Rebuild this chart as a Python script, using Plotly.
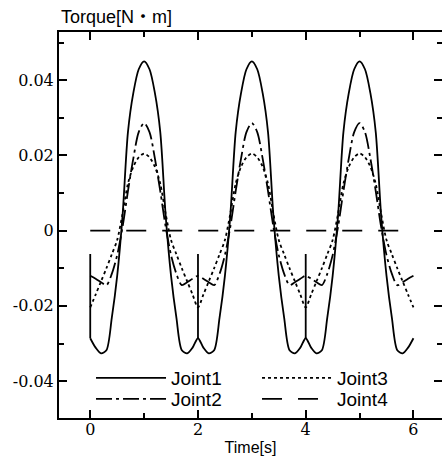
import plotly.graph_objects as go

# ---- data ----
time = [round(0.1 * i, 1) for i in range(61)]

joint1 = [
    -0.0286, -0.0311, -0.0326, -0.0318, -0.0232, -0.0120, 0.0040, 0.0262, 0.0366, 0.0429,
    0.0450, 0.0429, 0.0366, 0.0262, 0.0040, -0.0120, -0.0232, -0.0318, -0.0326, -0.0311,
    -0.0286, -0.0311, -0.0326, -0.0318, -0.0232, -0.0120, 0.0040, 0.0262, 0.0366, 0.0429,
    0.0450, 0.0429, 0.0366, 0.0262, 0.0040, -0.0120, -0.0232, -0.0318, -0.0326, -0.0311,
    -0.0286, -0.0311, -0.0326, -0.0318, -0.0232, -0.0120, 0.0040, 0.0262, 0.0366, 0.0429,
    0.0450, 0.0429, 0.0366, 0.0262, 0.0040, -0.0120, -0.0232, -0.0318, -0.0326, -0.0311,
    -0.0286,
]
joint1_spike_times = [0.0, 2.0, 4.0]
joint1_spike_top = -0.0062

joint2 = [
    -0.0120, -0.0128, -0.0137, -0.0145, -0.0115, -0.0065, 0.0010, 0.0105, 0.0192, 0.0262,
    0.0286, 0.0262, 0.0192, 0.0105, 0.0010, -0.0065, -0.0115, -0.0145, -0.0137, -0.0128,
    -0.0120, -0.0128, -0.0137, -0.0145, -0.0115, -0.0065, 0.0010, 0.0105, 0.0192, 0.0262,
    0.0286, 0.0262, 0.0192, 0.0105, 0.0010, -0.0065, -0.0115, -0.0145, -0.0137, -0.0128,
    -0.0120, -0.0128, -0.0137, -0.0145, -0.0115, -0.0065, 0.0010, 0.0105, 0.0192, 0.0262,
    0.0286, 0.0262, 0.0192, 0.0105, 0.0010, -0.0065, -0.0115, -0.0145, -0.0137, -0.0128,
    -0.0120,
]

joint3 = [
    -0.0204, -0.0170, -0.0135, -0.0100, -0.0063, -0.0025, 0.0045, 0.0125, 0.0170, 0.0195,
    0.0205, 0.0195, 0.0170, 0.0125, 0.0045, -0.0025, -0.0063, -0.0100, -0.0135, -0.0170,
    -0.0204, -0.0170, -0.0135, -0.0100, -0.0063, -0.0025, 0.0045, 0.0125, 0.0170, 0.0195,
    0.0205, 0.0195, 0.0170, 0.0125, 0.0045, -0.0025, -0.0063, -0.0100, -0.0135, -0.0170,
    -0.0204, -0.0170, -0.0135, -0.0100, -0.0063, -0.0025, 0.0045, 0.0125, 0.0170, 0.0195,
    0.0205, 0.0195, 0.0170, 0.0125, 0.0045, -0.0025, -0.0063, -0.0100, -0.0135, -0.0170,
    -0.0204,
]

joint4_time = [0.0, 6.0]
joint4 = [0.0, 0.0]

x_ticks = [0, 2, 4, 6]
x_minor = [1, 3, 5]
y_ticks = [-0.04, -0.02, 0, 0.02, 0.04]
y_ticktext = ["-0.04", "-0.02", "0", "0.02", "0.04"]
y_minor = [-0.05, -0.03, -0.01, 0.01, 0.03, 0.05]

# vertical spikes of Joint1
sx, sy = [], []
for t0 in joint1_spike_times:
    base = joint1[time.index(t0)]
    sx += [t0, t0, None]
    sy += [base, joint1_spike_top, None]

SANS = "Liberation Sans, Noto Sans CJK JP, sans-serif"
SERIF = "DejaVu Serif, serif"
W = 1.8
SM = 0.8

fig = go.Figure()
fig.add_trace(go.Scatter(x=time, y=joint1, mode="lines", name="Joint1", legend="legend",
                         legendgroup="j1", line=dict(color="black", width=W, shape="spline",
                                                     smoothing=SM)))
fig.add_trace(go.Scatter(x=sx, y=sy, mode="lines", showlegend=False, legendgroup="j1",
                         line=dict(color="black", width=W), hoverinfo="skip"))
fig.add_trace(go.Scatter(x=time, y=joint3, mode="lines", name="Joint3", legend="legend",
                         line=dict(color="black", width=W, dash="3px,3px", shape="spline",
                                   smoothing=SM)))
fig.add_trace(go.Scatter(x=time, y=joint2, mode="lines", name="Joint2", legend="legend2",
                         line=dict(color="black", width=W, dash="16px,4px,3px,4px",
                                   shape="spline", smoothing=SM)))
fig.add_trace(go.Scatter(x=joint4_time, y=joint4, mode="lines", name="Joint4", legend="legend2",
                         line=dict(color="black", width=W, dash="20px,16px")))
# invisible trace so the right-hand tick axis is drawn
fig.add_trace(go.Scatter(x=[0], y=[0], yaxis="y2", mode="markers", showlegend=False,
                         marker=dict(opacity=0), hoverinfo="skip"))

tick_common = dict(ticks="inside", tickcolor="black", tickwidth=1.5, ticklen=8,
                   showgrid=False, zeroline=False)
minor_common = dict(ticks="inside", ticklen=5, tickcolor="black", tickwidth=1.5)
legend_common = dict(orientation="h", x=0.0836, xanchor="left", yanchor="middle",
                     entrywidth=81, entrywidthmode="pixels", itemwidth=70,
                     bgcolor="rgba(0,0,0,0)",
                     font=dict(family=SANS, size=19, color="black"))

fig.update_layout(
    width=442, height=461,
    margin=dict(l=59, r=0, t=32, b=43),
    paper_bgcolor="white", plot_bgcolor="white",
    showlegend=True,
    legend=dict(y=0.1036, **legend_common),
    legend2=dict(y=0.0492, **legend_common),
    xaxis=dict(range=[-0.58, 6.53], tickvals=x_ticks, showline=True, linecolor="black",
               linewidth=2, mirror="ticks", ticklabelstandoff=-4,
               minor=dict(tickvals=x_minor, **minor_common),
               tickfont=dict(family=SERIF, size=16, color="black"),
               title=dict(text="Time[s]", font=dict(family=SANS, size=16, color="black"),
                          standoff=4),
               **tick_common),
    yaxis=dict(range=[-0.0498, 0.0528], tickvals=y_ticks, ticktext=y_ticktext,
               showline=True, linecolor="black", linewidth=2, mirror=False,
               minor=dict(tickvals=y_minor, **minor_common),
               tickfont=dict(family=SERIF, size=16, color="black"),
               **tick_common),
    yaxis2=dict(range=[-0.0498, 0.0528], overlaying="y", side="right", anchor="x",
                tickvals=y_ticks, showticklabels=False, showline=False,
                minor=dict(tickvals=y_minor, **minor_common),
                **tick_common),
    annotations=[dict(text="Torque[N・m]", xref="paper", yref="paper", x=0, y=1,
                      xanchor="left", yanchor="bottom", yshift=3, showarrow=False,
                      font=dict(family=SANS, size=18, color="black"))],
)

fig.write_html("out.html")
